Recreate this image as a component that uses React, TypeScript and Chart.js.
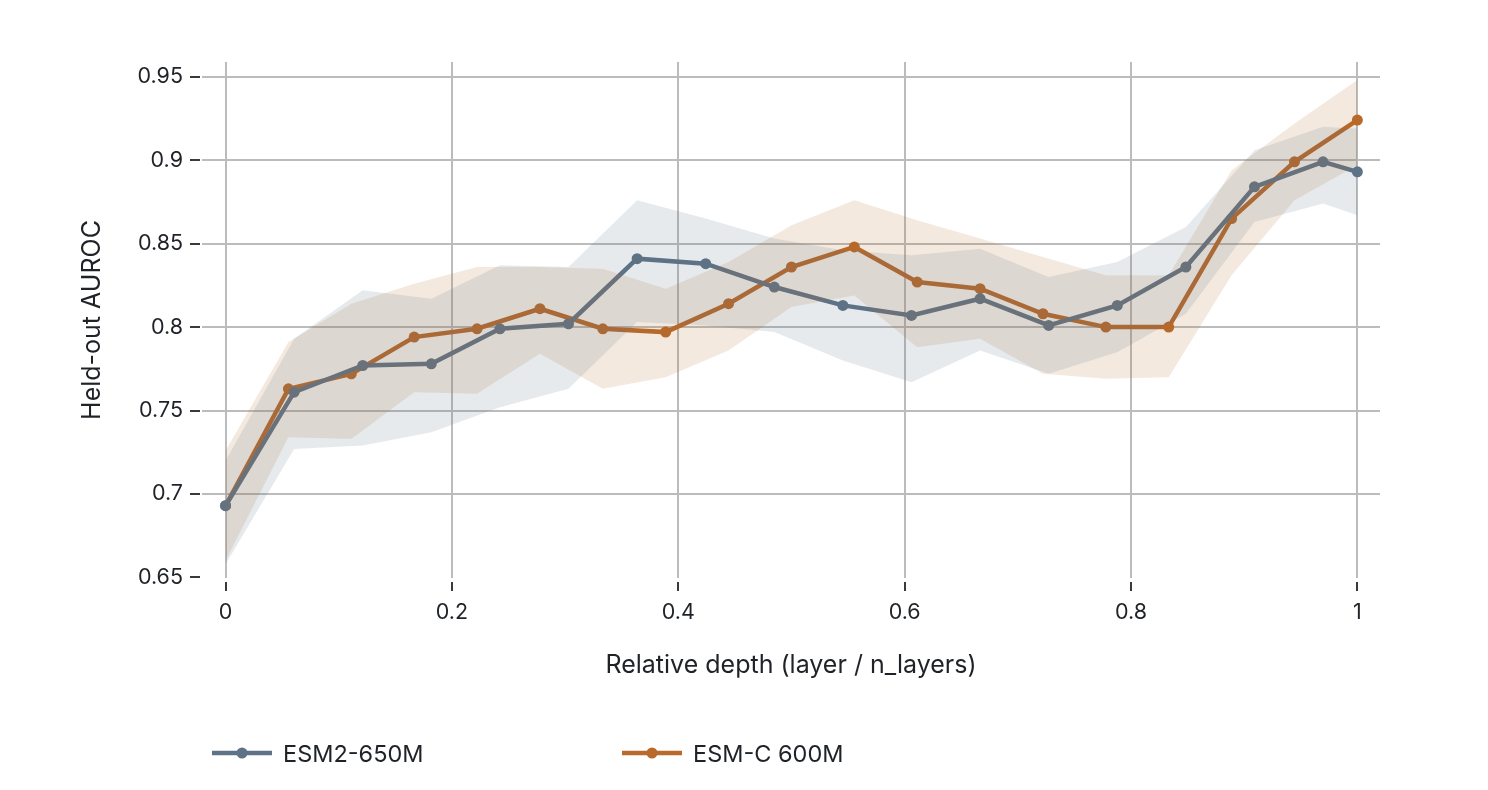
import React, { useEffect, useRef } from "react";
import { Chart, registerables } from "chart.js";

Chart.register(...registerables);

// Layer indices probed for each model, and total depth used to normalise them
const ESM2_LAYERS = [0, 2, 4, 6, 8, 10, 12, 14, 16, 18, 20, 22, 24, 26, 28, 30, 32, 33];
const ESM2_N_LAYERS = 33;
const ESMC_LAYERS = [0, 2, 4, 6, 8, 10, 12, 14, 16, 18, 20, 22, 24, 26, 28, 30, 32, 34, 36];
const ESMC_N_LAYERS = 36;

// Held-out AUROC per layer (mean) with its spread band
const ESM2_AUROC = [0.693, 0.761, 0.777, 0.778, 0.799, 0.802, 0.841, 0.838, 0.824, 0.813, 0.807, 0.817, 0.801, 0.813, 0.836, 0.884, 0.899, 0.893];
const ESM2_UPPER = [0.72, 0.793, 0.822, 0.817, 0.837, 0.836, 0.876, 0.865, 0.853, 0.846, 0.843, 0.847, 0.83, 0.839, 0.86, 0.906, 0.92, 0.919];
const ESM2_LOWER = [0.658, 0.727, 0.729, 0.737, 0.752, 0.763, 0.803, 0.801, 0.797, 0.78, 0.767, 0.786, 0.772, 0.785, 0.808, 0.863, 0.874, 0.867];

const ESMC_AUROC = [0.693, 0.763, 0.772, 0.794, 0.799, 0.811, 0.799, 0.797, 0.814, 0.836, 0.848, 0.827, 0.823, 0.808, 0.8, 0.8, 0.865, 0.899, 0.924];
const ESMC_UPPER = [0.726, 0.791, 0.814, 0.826, 0.836, 0.836, 0.835, 0.823, 0.839, 0.861, 0.876, 0.864, 0.853, 0.842, 0.831, 0.831, 0.894, 0.922, 0.948];
const ESMC_LOWER = [0.66, 0.734, 0.733, 0.761, 0.76, 0.784, 0.763, 0.77, 0.786, 0.812, 0.819, 0.788, 0.793, 0.772, 0.769, 0.77, 0.831, 0.876, 0.897];

const X_TICKS = [0, 0.2, 0.4, 0.6, 0.8, 1];
const X_TICK_LABELS = ["0", "0.2", "0.4", "0.6", "0.8", "1"];
const Y_TICKS = [0.65, 0.7, 0.75, 0.8, 0.85, 0.9, 0.95];
const Y_TICK_LABELS = ["0.65", "0.7", "0.75", "0.8", "0.85", "0.9", "0.95"];

const SERIES_NAMES = ["ESM2-650M", "ESM-C 600M"];

const ESM2_COLOR = "#5e7387";
const ESMC_COLOR = "#b8692b";
const ESM2_BAND = "rgba(91,115,137,0.15)";
const ESMC_BAND = "rgba(184,105,43,0.15)";
const TEXT_COLOR = "#1f2328";
const GRID_COLOR = "#bcbcbc";
const FONT_FAMILY = "Inter, 'Noto Sans', sans-serif";

const W = 1488;
const H = 790;

const toPoints = (layers: number[], n: number, vals: number[]) =>
  layers.map((l, i) => ({ x: l / n, y: vals[i] }));

// Short dark tick marks set slightly apart from the plot area
const tickMarks = {
  id: "tickMarks",
  afterDraw(chart: any) {
    const { ctx, chartArea, scales } = chart;
    ctx.save();
    ctx.strokeStyle = "#3a3a3a";
    ctx.lineWidth = 2;
    ctx.beginPath();
    for (const v of Y_TICKS) {
      const y = Math.round(scales.y.getPixelForValue(v));
      ctx.moveTo(chartArea.left - 12, y);
      ctx.lineTo(chartArea.left - 2, y);
    }
    for (const v of X_TICKS) {
      const x = Math.round(scales.x.getPixelForValue(v));
      ctx.moveTo(x, chartArea.bottom + 4);
      ctx.lineTo(x, chartArea.bottom + 13);
    }
    ctx.stroke();
    ctx.restore();
  },
};

function LegendItem({ color, label, left }: { color: string; label: string; left: number }) {
  return (
    <div
      style={{
        position: "absolute",
        left,
        top: 753 - 16,
        height: 32,
        display: "flex",
        alignItems: "center",
        fontFamily: FONT_FAMILY,
        fontSize: 23.5,
        color: TEXT_COLOR,
        whiteSpace: "nowrap",
      }}
    >
      <svg width={60} height={14} style={{ marginRight: 11 }}>
        <line x1={0} y1={7} x2={60} y2={7} stroke={color} strokeWidth={4.5} />
        <circle cx={30} cy={7} r={5.5} fill={color} />
      </svg>
      <span>{label}</span>
    </div>
  );
}

export default function App() {
  const canvasRef = useRef<HTMLCanvasElement | null>(null);

  useEffect(() => {
    const canvas = canvasRef.current;
    if (!canvas) return;

    const tickFont = { family: FONT_FAMILY, size: 21.5 };
    const titleFont = { family: FONT_FAMILY, size: 25 };

    const chart = new Chart(canvas, {
      type: "line",
      data: {
        datasets: [
          {
            label: "esm2-upper",
            data: toPoints(ESM2_LAYERS, ESM2_N_LAYERS, ESM2_UPPER),
            borderWidth: 0,
            pointRadius: 0,
            fill: false,
            backgroundColor: ESM2_BAND,
          },
          {
            label: "esm2-lower",
            data: toPoints(ESM2_LAYERS, ESM2_N_LAYERS, ESM2_LOWER),
            borderWidth: 0,
            pointRadius: 0,
            fill: "-1",
            backgroundColor: ESM2_BAND,
          },
          {
            label: "esmc-upper",
            data: toPoints(ESMC_LAYERS, ESMC_N_LAYERS, ESMC_UPPER),
            borderWidth: 0,
            pointRadius: 0,
            fill: false,
            backgroundColor: ESMC_BAND,
          },
          {
            label: "esmc-lower",
            data: toPoints(ESMC_LAYERS, ESMC_N_LAYERS, ESMC_LOWER),
            borderWidth: 0,
            pointRadius: 0,
            fill: "-1",
            backgroundColor: ESMC_BAND,
          },
          {
            label: SERIES_NAMES[0],
            data: toPoints(ESM2_LAYERS, ESM2_N_LAYERS, ESM2_AUROC),
            borderColor: ESM2_COLOR,
            backgroundColor: ESM2_COLOR,
            borderWidth: 4.5,
            pointRadius: 5.5,
            pointBorderWidth: 0,
            fill: false,
          },
          {
            label: SERIES_NAMES[1],
            data: toPoints(ESMC_LAYERS, ESMC_N_LAYERS, ESMC_AUROC),
            borderColor: ESMC_COLOR,
            backgroundColor: ESMC_COLOR,
            borderWidth: 4.5,
            pointRadius: 5.5,
            pointBorderWidth: 0,
            fill: false,
          },
        ],
      },
      options: {
        animation: false,
        responsive: false,
        devicePixelRatio: 1,
        layout: { padding: { left: 0, right: 108, top: 62, bottom: 100 } },
        plugins: {
          legend: { display: false },
          tooltip: { enabled: false },
        },
        scales: {
          x: {
            type: "linear",
            min: -0.0208,
            max: 1.02,
            afterBuildTicks: (s: any) => {
              s.ticks = X_TICKS.map((v) => ({ value: v }));
            },
            afterFit: (s: any) => {
              s.height = 112;
            },
            border: { display: false },
            grid: { color: GRID_COLOR, lineWidth: 2, drawTicks: false },
            ticks: {
              font: tickFont,
              color: TEXT_COLOR,
              padding: 22,
              callback: (v: any) => X_TICK_LABELS[X_TICKS.indexOf(Number(v))] ?? "",
            },
            title: {
              display: true,
              text: "Relative depth (layer / n_layers)",
              font: titleFont,
              color: TEXT_COLOR,
              padding: { top: 0, bottom: 10 },
            },
          },
          y: {
            type: "linear",
            min: 0.6497,
            max: 0.9588,
            afterBuildTicks: (s: any) => {
              s.ticks = Y_TICKS.map((v) => ({ value: v }));
            },
            afterFit: (s: any) => {
              s.width = 202;
            },
            border: { display: false },
            grid: {
              color: (c: any) => (c.tick && c.tick.value === 0.65 ? "rgba(0,0,0,0)" : GRID_COLOR),
              lineWidth: 2,
              drawTicks: false,
            },
            ticks: {
              font: tickFont,
              color: TEXT_COLOR,
              padding: 19,
              callback: (v: any) => Y_TICK_LABELS[Y_TICKS.indexOf(Number(v))] ?? "",
            },
            title: {
              display: true,
              text: "Held-out AUROC",
              font: titleFont,
              color: TEXT_COLOR,
              padding: { top: 77, bottom: 0 },
            },
          },
        },
      },
      plugins: [tickMarks],
    } as any);

    return () => chart.destroy();
  }, []);

  return (
    <div style={{ position: "absolute", left: 0, top: 0, width: W, height: H, background: "#fff" }}>
      <canvas ref={canvasRef} width={W} height={H} style={{ display: "block", width: W, height: H }} />
      <LegendItem color={ESM2_COLOR} label={SERIES_NAMES[0]} left={212} />
      <LegendItem color={ESMC_COLOR} label={SERIES_NAMES[1]} left={622} />
    </div>
  );
}
